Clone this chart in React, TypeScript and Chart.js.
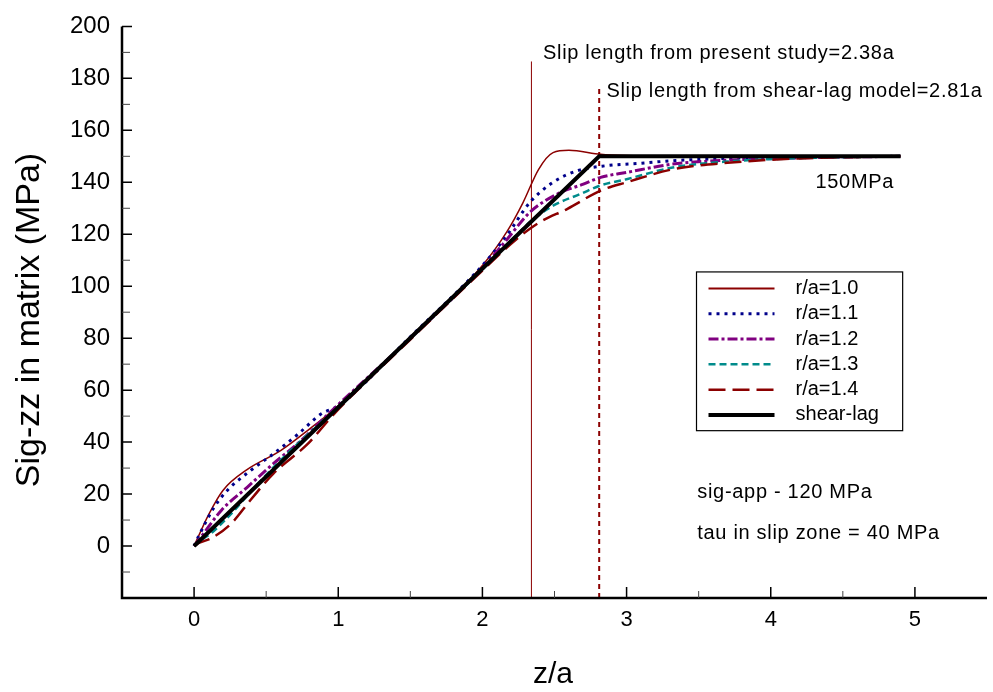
import React, { useEffect, useRef } from 'react';
import { Chart, registerables } from 'chart.js';

Chart.register(...registerables);

// ---- data ----
const seriesNames = ['r/a=1.0', 'r/a=1.1', 'r/a=1.2', 'r/a=1.3', 'r/a=1.4', 'shear-lag'];

const z10 = [0, 0.1, 0.2, 0.37, 0.6, 0.8, 1.0, 1.5, 2.0, 2.17, 2.28, 2.39, 2.49, 2.6, 2.82, 3.0, 3.5, 4.9];
const s10 = [0, 12, 21.4, 29.5, 36.7, 45, 54, 80.5, 108, 121, 132, 145, 151.4, 152.3, 150.8, 150.3, 150, 150];

const z11 = [0, 0.03, 0.14, 0.23, 0.39, 0.55, 0.72, 0.88, 1.0, 1.5, 2.0, 2.17, 2.33, 2.49, 2.66, 2.86, 3.09, 3.32, 3.6, 4.0, 4.9];
const s11 = [0, 3.6, 15, 21.4, 29, 35.5, 43, 50.8, 54, 80.5, 108, 119.6, 132.3, 140, 144.5, 146.4, 147.3, 148.3, 149, 149.6, 150];

const z12 = [0, 0.05, 0.19, 0.37, 0.55, 0.74, 0.93, 1.5, 2.0, 2.17, 2.33, 2.52, 2.7, 2.82, 3.0, 3.32, 3.7, 4.2, 4.9];
const s12 = [0, 3.6, 13.8, 22.7, 31.7, 40.5, 50.8, 80, 107, 118, 128.5, 135.5, 139.3, 141.9, 143.8, 147, 148.5, 149.4, 150];

const z13 = [0, 0.05, 0.12, 0.26, 0.42, 0.6, 0.79, 0.97, 1.5, 2.0, 2.17, 2.33, 2.49, 2.68, 2.82, 3.0, 3.32, 3.7, 4.2, 4.9];
const s13 = [0, 2.3, 5, 12.6, 22.7, 33, 43, 52, 80, 106.5, 116, 124.7, 131, 135.5, 138.8, 141.2, 145.7, 148, 149.3, 150];

const z14 = [0, 0.03, 0.12, 0.26, 0.39, 0.55, 0.79, 0.97, 1.5, 2.0, 2.24, 2.4, 2.59, 2.82, 3.0, 3.32, 3.7, 4.2, 4.9];
const s14 = [0, 1.1, 3, 8.8, 17.6, 27.9, 39.4, 50.8, 79.5, 106, 118.3, 124.7, 129.8, 136.8, 140, 145, 147.5, 149.2, 150];

const zShear = [0, 2.81, 4.9];
const sShear = [0, 150, 150];

const slipPresentZ = [2.34, 2.34];
const slipPresentS = [-20, 186.5];
const slipShearZ = [2.81, 2.81];
const slipShearS = [-20, 177];

const xTickValues = [0, 1, 2, 3, 4, 5];
const xMinorValues = [0.5, 1.5, 2.5, 3.5, 4.5];
const yTickValues = [0, 20, 40, 60, 80, 100, 120, 140, 160, 180, 200];
const yMinorValues = [-10, 10, 30, 50, 70, 90, 110, 130, 150, 170, 190];

const xTitle = 'z/a';
const yTitle = 'Sig-zz in matrix (MPa)';

const notes = [
  { text: 'Slip length from present study=2.38a', x: 2.42, y: 189.7 },
  { text: 'Slip length from shear-lag model=2.81a', x: 2.86, y: 175.1 },
  { text: '150MPa', x: 4.31, y: 140 },
  { text: 'sig-app - 120 MPa', x: 3.49, y: 20.6 },
  { text: 'tau in slip zone = 40 MPa', x: 3.49, y: 5 },
];

const FONT = "'Liberation Sans', Arial, sans-serif";

const toPts = (xs: number[], ys: number[]) => xs.map((x, i) => ({ x, y: ys[i] }));

const styles = [
  { color: '#8b0000', width: 1.5, dash: [] as number[] },
  { color: '#00008b', width: 3, dash: [3, 5] },
  { color: '#800080', width: 3, dash: [10, 3, 3, 3] },
  { color: '#008b8b', width: 2.5, dash: [7, 4] },
  { color: '#8b0000', width: 2.5, dash: [17, 7] },
  { color: '#000000', width: 4, dash: [] as number[] },
];

const overlayPlugin = {
  id: 'overlay',
  afterDraw(chart: any) {
    const { ctx, chartArea } = chart;
    const xs = chart.scales.x;
    const ys = chart.scales.y;
    const px = (v: number) => xs.getPixelForValue(v);
    const py = (v: number) => ys.getPixelForValue(v);
    ctx.save();

    // axes lines
    ctx.strokeStyle = '#000';
    ctx.lineWidth = 2.5;
    ctx.setLineDash([]);
    ctx.beginPath();
    ctx.moveTo(chartArea.left, chartArea.top);
    ctx.lineTo(chartArea.left, chartArea.bottom);
    ctx.lineTo(chartArea.right, chartArea.bottom);
    ctx.stroke();

    // ticks (inward)
    ctx.lineWidth = 1.5;
    ctx.strokeStyle = '#000';
    ctx.beginPath();
    xTickValues.forEach((v) => {
      const x = px(v);
      ctx.moveTo(x, chartArea.bottom);
      ctx.lineTo(x, chartArea.bottom - 11);
    });
    yTickValues.forEach((v) => {
      const y = py(v);
      ctx.moveTo(chartArea.left, y);
      ctx.lineTo(chartArea.left + 10, y);
    });
    ctx.stroke();
    ctx.strokeStyle = '#444';
    ctx.lineWidth = 1;
    ctx.beginPath();
    xMinorValues.forEach((v) => {
      const x = px(v);
      ctx.moveTo(x, chartArea.bottom);
      ctx.lineTo(x, chartArea.bottom - 7);
    });
    yMinorValues.forEach((v) => {
      const y = py(v);
      ctx.moveTo(chartArea.left, y);
      ctx.lineTo(chartArea.left + 8, y);
    });
    ctx.stroke();

    // axis titles
    ctx.fillStyle = '#000';
    ctx.font = `30px ${FONT}`;
    ctx.textAlign = 'center';
    ctx.textBaseline = 'middle';
    ctx.fillText(xTitle, 553, 675);
    ctx.save();
    ctx.translate(30, 320);
    ctx.rotate(-Math.PI / 2);
    ctx.font = `34px ${FONT}`;
    ctx.fillText(yTitle, 0, 0);
    ctx.restore();

    // notes
    ctx.font = `20px ${FONT}`;
    ctx.textAlign = 'left';
    ctx.textBaseline = 'middle';
    try { (ctx as any).letterSpacing = '0.7px'; } catch (e) {}
    notes.forEach((n) => {
      ctx.fillText(n.text, px(n.x), py(n.y));
    });
    try { (ctx as any).letterSpacing = '0px'; } catch (e) {}

    // legend
    const L = px(3.485), R = px(4.915), T = py(105.5), B = py(44.4);
    ctx.fillStyle = '#fff';
    ctx.fillRect(L, T, R - L, B - T);
    ctx.strokeStyle = '#000';
    ctx.lineWidth = 1.2;
    ctx.setLineDash([]);
    ctx.strokeRect(L, T, R - L, B - T);
    ctx.font = `20px ${FONT}`;
    ctx.fillStyle = '#000';
    seriesNames.forEach((name, i) => {
      const y = T + 16.5 + i * 25.3;
      const st = styles[i];
      ctx.strokeStyle = st.color;
      ctx.lineWidth = i === 0 ? 2 : st.width;
      ctx.setLineDash(st.dash);
      ctx.beginPath();
      ctx.moveTo(L + 12, y);
      ctx.lineTo(L + 78, y);
      ctx.stroke();
      ctx.setLineDash([]);
      ctx.fillText(name, L + 99, y);
    });

    ctx.restore();
  },
};

export default function App() {
  const ref = useRef<HTMLCanvasElement | null>(null);

  useEffect(() => {
    if (!ref.current) return;
    const seriesZ = [z10, z11, z12, z13, z14, zShear];
    const seriesS = [s10, s11, s12, s13, s14, sShear];
    const datasets: any[] = seriesNames.map((name, i) => ({
      label: name,
      data: toPts(seriesZ[i], seriesS[i]),
      borderColor: styles[i].color,
      backgroundColor: styles[i].color,
      borderWidth: styles[i].width,
      borderDash: styles[i].dash,
      borderCapStyle: 'butt',
      showLine: true,
      pointRadius: 0,
      fill: false,
      cubicInterpolationMode: i < 5 ? 'monotone' : 'default',
      tension: 0,
      order: i === 5 ? 0 : 6 - i,
    }));
    datasets.push({
      label: 'slip-present',
      data: toPts(slipPresentZ, slipPresentS),
      borderColor: '#8b0000',
      borderWidth: 1,
      showLine: true,
      pointRadius: 0,
      order: 10,
    });
    datasets.push({
      label: 'slip-shearlag',
      data: toPts(slipShearZ, slipShearS),
      borderColor: '#8b0000',
      borderWidth: 2,
      borderDash: [5, 4],
      showLine: true,
      pointRadius: 0,
      order: 10,
    });

    const chart = new Chart(ref.current, {
      type: 'scatter',
      data: { datasets },
      plugins: [overlayPlugin],
      options: {
        animation: false,
        responsive: false,
        devicePixelRatio: 1,
        layout: { padding: { left: 0, top: 23, right: 6, bottom: 0 } },
        plugins: { legend: { display: false }, tooltip: { enabled: false } },
        scales: {
          x: {
            type: 'linear',
            min: -0.5,
            max: 5.5,
            grid: { display: false, drawTicks: false },
            border: { display: false },
            afterBuildTicks: (s: any) => { s.ticks = xTickValues.map((v) => ({ value: v })); },
            afterFit: (s: any) => { s.height = 94; },
            ticks: { color: '#000', padding: 9, font: { family: FONT, size: 22 }, maxRotation: 0, autoSkip: false },
          },
          y: {
            type: 'linear',
            min: -20,
            max: 200,
            grid: { display: false, drawTicks: false },
            border: { display: false },
            afterBuildTicks: (s: any) => { s.ticks = yTickValues.map((v) => ({ value: v })); },
            afterFit: (s: any) => { s.width = 122; },
            ticks: { color: '#000', padding: 12, font: { family: FONT, size: 24 }, autoSkip: false },
          },
        },
      } as any,
    });
    return () => chart.destroy();
  }, []);

  return (
    <div style={{ position: 'absolute', left: 0, top: 0, width: 993, height: 692, background: '#fff' }}>
      <canvas ref={ref} width={993} height={692} style={{ width: 993, height: 692, display: 'block' }} />
    </div>
  );
}
